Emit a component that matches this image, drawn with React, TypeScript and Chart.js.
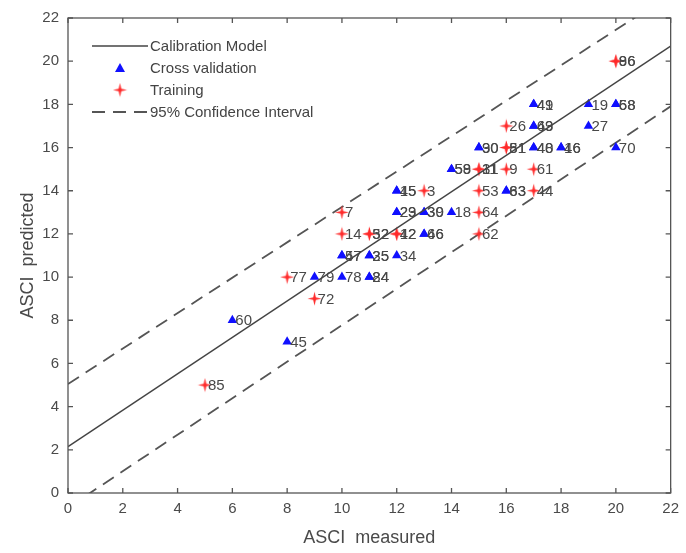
import React, { useEffect, useRef } from "react";
import { Chart, registerables } from "chart.js";

Chart.register(...registerables);

// ---- data ----
const axisTicks = [0, 2, 4, 6, 8, 10, 12, 14, 16, 18, 20, 22];

const cvMeasured = [17, 17, 19, 20, 20, 17, 17, 19, 15, 15, 17, 17, 18, 18, 20, 14, 14, 12, 12, 16, 16, 12, 12, 13, 13, 14, 13, 13, 10, 10, 11, 11, 12, 9, 10, 11, 11, 6, 8];
const cvPredicted = [18, 18, 18, 18, 18, 17, 17, 17, 16, 16, 16, 16, 16, 16, 16, 15, 15, 14, 14, 14, 14, 13, 13, 13, 13, 13, 12, 12, 11, 11, 11, 11, 11, 10, 10, 10, 10, 8, 7];
const cvIds = ["49", "41", "19", "68", "58", "69", "43", "27", "30", "90", "48", "40", "16", "46", "70", "58", "59", "15", "45", "63", "83", "29", "23", "39", "30", "18", "46", "66", "47", "57", "25", "35", "34", "79", "78", "24", "84", "60", "45"];

const trMeasured = [20, 20, 16, 16, 16, 15, 15, 16, 17, 13, 15, 17, 10, 15, 10, 11, 11, 12, 12, 15, 8, 9, 5];
const trPredicted = [20, 20, 17, 16, 16, 15, 15, 15, 15, 14, 14, 14, 13, 13, 12, 12, 12, 12, 12, 12, 10, 9, 5];
const trIds = ["86", "96", "26", "51", "81", "31", "11", "9", "61", "3", "53", "44", "7", "64", "14", "52", "32", "12", "42", "62", "77", "72", "85"];

// lines as [intercept, slope]
const calibrationModel = [2.15, 0.843];
const upperConfidence = [5.05, 0.82];
const lowerConfidence = [-0.68, 0.845];

const legendLabels = ["Calibration Model", "Cross validation", "Training", "95% Confidence Interval"];

const FONT = "'Liberation Sans', Arial, sans-serif";
const TEXT = "#4a4a4a";

function makeStar(): HTMLCanvasElement {
  const c = document.createElement("canvas");
  const s = 15;
  c.width = s;
  c.height = s;
  const g = c.getContext("2d")!;
  const cx = s / 2, cy = s / 2, R = 7, r = 1.9;
  g.fillStyle = "#ff2a2a";
  g.beginPath();
  for (let i = 0; i < 8; i++) {
    const ang = (Math.PI / 4) * i - Math.PI / 2;
    const rad = i % 2 === 0 ? R : r;
    const px = cx + rad * Math.cos(ang);
    const py = cy + rad * Math.sin(ang);
    if (i === 0) g.moveTo(px, py); else g.lineTo(px, py);
  }
  g.closePath();
  g.fill();
  return c;
}

export default function App() {
  const ref = useRef<HTMLCanvasElement>(null);

  useEffect(() => {
    document.body.style.margin = "0";
    const star = makeStar();
    const xs = [axisTicks[0], axisTicks[axisTicks.length - 1]];
    const lineData = (p: number[]) => xs.map((x) => ({ x, y: p[0] + p[1] * x }));

    const labelSets: Record<number, string[]> = { 1: cvIds, 2: trIds };

    const pointLabels = {
      id: "pointLabels",
      afterDatasetsDraw(chart: any) {
        const ctx = chart.ctx;
        ctx.save();
        ctx.font = `15px ${FONT}`;
        ctx.fillStyle = "#484848";
        ctx.textBaseline = "middle";
        ctx.textAlign = "left";
        Object.keys(labelSets).forEach((k) => {
          const idx = Number(k);
          const meta = chart.getDatasetMeta(idx);
          meta.data.forEach((el: any, i: number) => {
            ctx.fillText(labelSets[idx][i], el.x + 3, el.y + 1);
          });
        });
        ctx.restore();
      },
    };

    const frame = {
      id: "frame",
      afterDraw(chart: any) {
        const { ctx, chartArea: a, scales } = chart;
        ctx.save();
        ctx.strokeStyle = "#555";
        ctx.lineWidth = 1.3;
        ctx.strokeRect(a.left, a.top, a.right - a.left, a.bottom - a.top);
        const len = 5;
        ctx.beginPath();
        scales.x.ticks.forEach((t: any) => {
          const px = scales.x.getPixelForValue(t.value);
          ctx.moveTo(px, a.bottom);
          ctx.lineTo(px, a.bottom - len);
          ctx.moveTo(px, a.top);
          ctx.lineTo(px, a.top + len);
        });
        scales.y.ticks.forEach((t: any) => {
          const py = scales.y.getPixelForValue(t.value);
          ctx.moveTo(a.left, py);
          ctx.lineTo(a.left + len, py);
          ctx.moveTo(a.right, py);
          ctx.lineTo(a.right - len, py);
        });
        ctx.stroke();
        ctx.restore();
      },
    };

    const legend = {
      id: "customLegend",
      afterDraw(chart: any) {
        const ctx = chart.ctx;
        const a = chart.chartArea;
        const x0 = a.left + 24, x1 = a.left + 80, tx = a.left + 82;
        const rows = [a.top + 28, a.top + 50, a.top + 72, a.top + 94];
        ctx.save();
        ctx.strokeStyle = "#444";
        ctx.lineWidth = 1.5;
        ctx.beginPath();
        ctx.moveTo(x0, rows[0]);
        ctx.lineTo(x1, rows[0]);
        ctx.stroke();
        const mx = (x0 + x1) / 2;
        ctx.fillStyle = "#1010ff";
        ctx.beginPath();
        ctx.moveTo(mx, rows[1] - 5);
        ctx.lineTo(mx + 5, rows[1] + 4);
        ctx.lineTo(mx - 5, rows[1] + 4);
        ctx.closePath();
        ctx.fill();
        ctx.drawImage(star, mx - star.width / 2, rows[2] - star.height / 2);
        ctx.strokeStyle = "#555";
        ctx.lineWidth = 1.8;
        ctx.setLineDash([13, 8]);
        ctx.beginPath();
        ctx.moveTo(x0, rows[3]);
        ctx.lineTo(x1 + 2, rows[3]);
        ctx.stroke();
        ctx.setLineDash([]);
        ctx.font = `15px ${FONT}`;
        ctx.fillStyle = "#444";
        ctx.textBaseline = "middle";
        legendLabels.forEach((t, i) => ctx.fillText(t, tx, rows[i] + 1));
        ctx.restore();
      },
    };

    const chart = new Chart(ref.current!, {
      type: "scatter",
      data: {
        datasets: [
          {
            label: legendLabels[0],
            data: lineData(calibrationModel),
            showLine: true,
            borderColor: "#444",
            borderWidth: 1.5,
            pointRadius: 0,
          },
          {
            label: legendLabels[1],
            data: cvMeasured.map((x, i) => ({ x, y: cvPredicted[i] })),
            pointStyle: "triangle",
            pointRadius: 5.5,
            backgroundColor: "#1010ff",
            borderColor: "#1010ff",
            borderWidth: 0,
          },
          {
            label: legendLabels[2],
            data: trMeasured.map((x, i) => ({ x, y: trPredicted[i] })),
            pointStyle: star as any,
            pointRadius: 7,
          },
          {
            label: legendLabels[3],
            data: lineData(upperConfidence),
            showLine: true,
            borderColor: "#555",
            borderWidth: 1.8,
            borderDash: [13, 8],
            pointRadius: 0,
          },
          {
            label: legendLabels[3] + " (lower)",
            data: lineData(lowerConfidence),
            showLine: true,
            borderColor: "#555",
            borderWidth: 1.8,
            borderDash: [13, 8],
            pointRadius: 0,
          },
        ],
      },
      options: {
        animation: false,
        responsive: false,
        layout: { padding: { top: 16, right: 10, left: 0, bottom: 0 } },
        plugins: { legend: { display: false }, tooltip: { enabled: false } },
        scales: {
          x: {
            min: 0,
            max: 22,
            afterBuildTicks: (s: any) => {
              s.ticks = axisTicks.map((v) => ({ value: v }));
            },
            afterFit: (s: any) => {
              s.height = 60;
            },
            grid: { display: false, drawTicks: false },
            border: { display: false },
            ticks: { padding: 7, color: TEXT, font: { size: 15, family: FONT } },
            title: {
              display: true,
              text: "ASCI  measured",
              color: TEXT,
              font: { size: 18, family: FONT },
              padding: { top: 0, bottom: 4 },
            },
          },
          y: {
            min: 0,
            max: 22,
            afterBuildTicks: (s: any) => {
              s.ticks = axisTicks.map((v) => ({ value: v }));
            },
            afterFit: (s: any) => {
              s.width = 68;
            },
            grid: { display: false, drawTicks: false },
            border: { display: false },
            ticks: { padding: 9, color: TEXT, font: { size: 15, family: FONT } },
            title: {
              display: true,
              text: "ASCI  predicted",
              color: TEXT,
              font: { size: 18, family: FONT },
              padding: { top: 17, bottom: 0 },
            },
          },
        },
      },
      plugins: [frame, pointLabels, legend],
    });
    return () => chart.destroy();
  }, []);

  return (
    <div style={{ width: 686, height: 553 }}>
      <canvas ref={ref} width={686} height={553} />
    </div>
  );
}
